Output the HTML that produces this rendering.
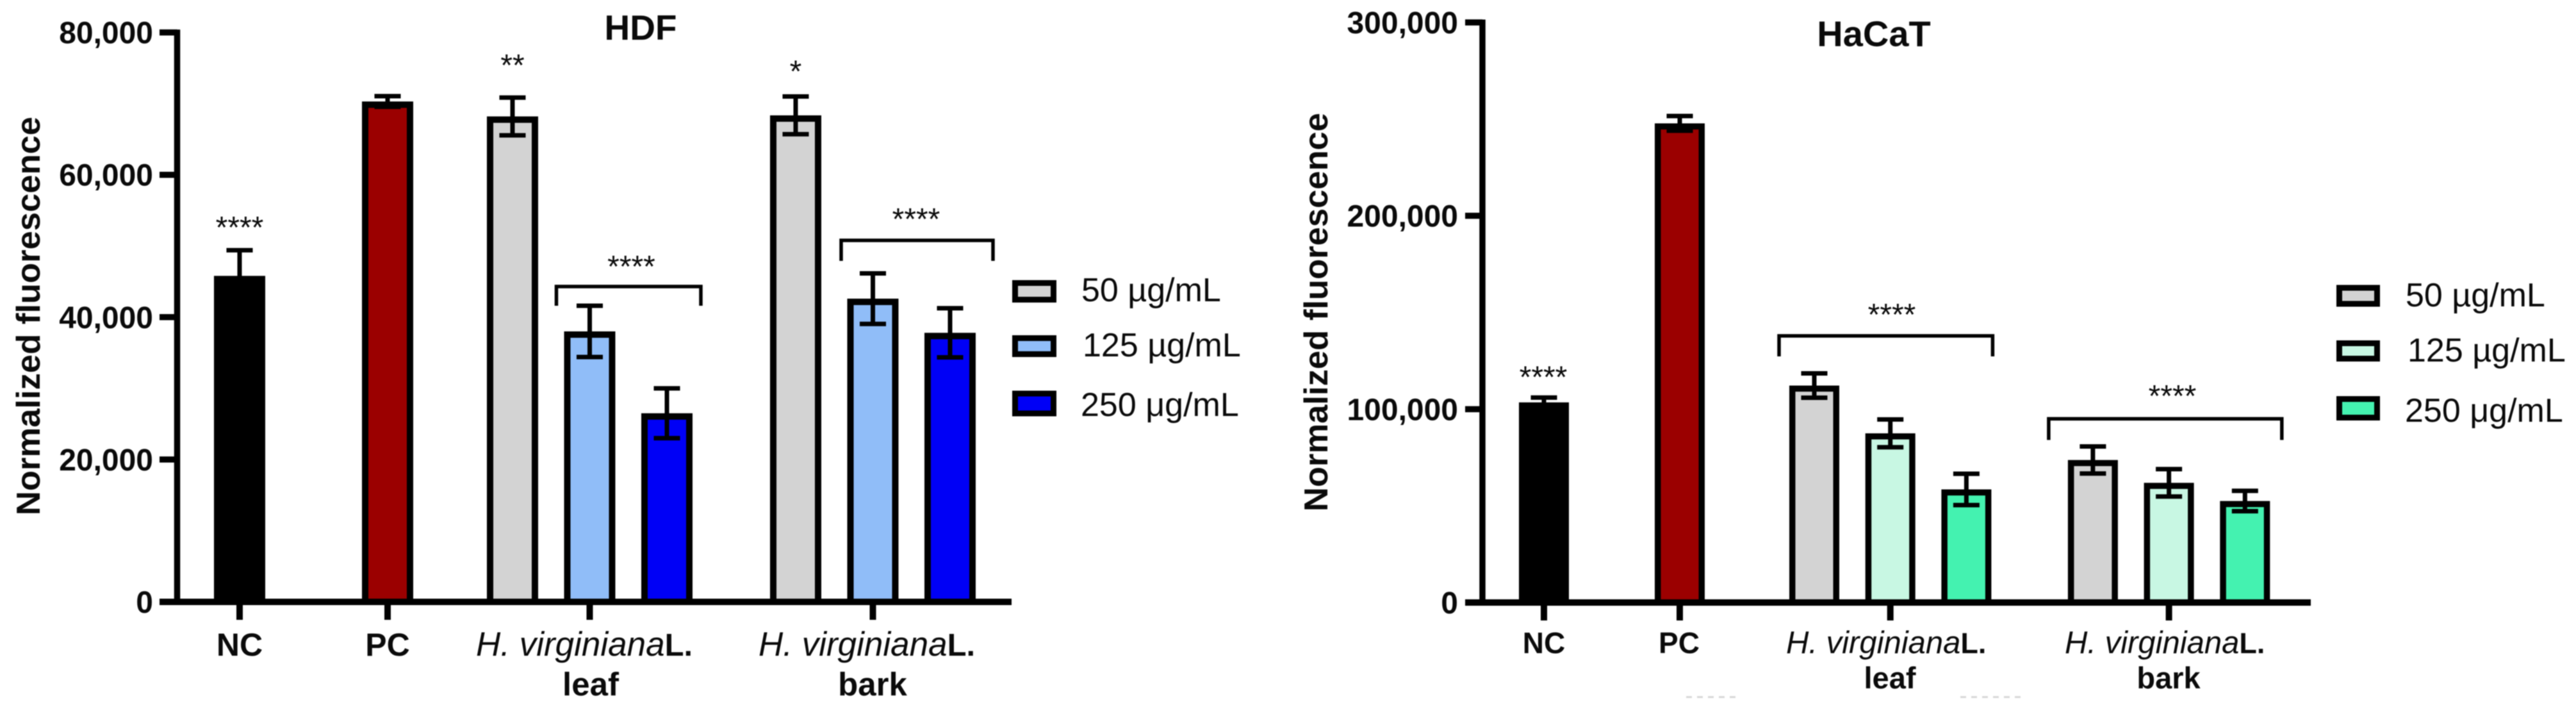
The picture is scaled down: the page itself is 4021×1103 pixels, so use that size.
<!DOCTYPE html>
<html lang="en">
<head>
<meta charset="utf-8">
<title>Normalized fluorescence in HDF and HaCaT cells</title>
<style>
html,body{margin:0;padding:0;background:#fff;width:4021px;height:1103px;overflow:hidden}
svg{display:block;filter:blur(0.7px)}
text{font-family:"Liberation Sans",Arial,sans-serif;fill:#0a0a0a}
.b{font-weight:700}
.i{font-style:italic;font-weight:400}
</style>
</head>
<body>
<svg id="figure" xmlns="http://www.w3.org/2000/svg" width="4021" height="1103" viewBox="0 0 4021 1103">
  <rect width="4021" height="1103" fill="#fff"/>

  <g id="hdf-chart">
    <text class="b" x="1000" y="62" font-size="55" text-anchor="middle">HDF</text>
    <text class="b" font-size="52" text-anchor="middle" textLength="622" lengthAdjust="spacingAndGlyphs" transform="translate(62,493) rotate(-90)">Normalized fluorescence</text>
    <text class="b" x="374" y="1023" font-size="50" text-anchor="middle">NC</text>
    <text class="b" x="605" y="1023" font-size="50" text-anchor="middle">PC</text>
    <text x="743" y="1023"><tspan class="i" font-size="53">H. virginiana</tspan><tspan class="b" font-size="49">L.</tspan></text>
    <text class="b" x="922" y="1085" font-size="51" text-anchor="middle">leaf</text>
    <text x="1184" y="1023"><tspan class="i" font-size="53">H. virginiana</tspan><tspan class="b" font-size="49">L.</tspan></text>
    <text class="b" x="1362" y="1085" font-size="51" text-anchor="middle">bark</text>

    <g>
      <rect x="1584.5" y="441.5" width="60" height="26" fill="#d3d3d3" stroke="#000" stroke-width="9"/>
      <text x="1688" y="470" font-size="52">50 µg/mL</text>
      <rect x="1584.5" y="527.5" width="60" height="25" fill="#90bdf8" stroke="#000" stroke-width="9"/>
      <text x="1690" y="556" font-size="52">125 µg/mL</text>
      <rect x="1584.5" y="614" width="60" height="31" fill="#0000f6" stroke="#000" stroke-width="9"/>
      <text x="1687" y="649" font-size="52">250 μg/mL</text>
    </g>
  </g>

  <g id="hacat-chart">
    <text class="b" x="2925" y="72" font-size="56" text-anchor="middle">HaCaT</text>
    <text class="b" font-size="52" text-anchor="middle" textLength="622" lengthAdjust="spacingAndGlyphs" transform="translate(2072,487) rotate(-90)">Normalized fluorescence</text>
    <text class="b" x="2410" y="1019" font-size="46" text-anchor="middle">NC</text>
    <text class="b" x="2621" y="1019" font-size="46" text-anchor="middle">PC</text>
    <text x="2788" y="1019"><tspan class="i" font-size="49">H. virginiana</tspan><tspan class="b" font-size="45">L.</tspan></text>
    <text class="b" x="2950" y="1074" font-size="47" text-anchor="middle">leaf</text>
    <text x="3223" y="1019"><tspan class="i" font-size="49">H. virginiana</tspan><tspan class="b" font-size="45">L.</tspan></text>
    <text class="b" x="3385" y="1074" font-size="47" text-anchor="middle">bark</text>

    <g>
      <rect x="3651.5" y="449" width="59" height="25" fill="#d3d3d3" stroke="#000" stroke-width="9"/>
      <text x="3755" y="478" font-size="52">50 µg/mL</text>
      <rect x="3651.5" y="535.5" width="59" height="24" fill="#c8f7e3" stroke="#000" stroke-width="9"/>
      <text x="3758" y="564" font-size="52">125 µg/mL</text>
      <rect x="3651.5" y="622.5" width="59" height="29" fill="#44f2b0" stroke="#000" stroke-width="9"/>
      <text x="3754" y="658" font-size="52">250 μg/mL</text>
    </g>
  </g>

  <line x1="2632" y1="1087.5" x2="2710" y2="1087.5" stroke="#d8d8d8" stroke-width="3" stroke-dasharray="9 8"/>
  <line x1="3060" y1="1087.5" x2="3160" y2="1087.5" stroke="#d8d8d8" stroke-width="3" stroke-dasharray="9 8"/>
</svg>

<script>
// ---------- HDF data ----------
const hdfCategories = ['NC', 'PC', 'leaf-50', 'leaf-125', 'leaf-250', 'bark-50', 'bark-125', 'bark-250'];
const hdfMeans = [45800, 70300, 68200, 38000, 26500, 68350, 42600, 37800];
const hdfErrors = [3600, 750, 2650, 3600, 3500, 2650, 3550, 3450];
const hdfTicks = [0, 20000, 40000, 60000, 80000];
const hdfTickLabels = ['0', '20,000', '40,000', '60,000', '80,000'];
const hdfFills = ['#000000', '#9b0000', '#d3d3d3', '#90bdf8', '#0000f6', '#d3d3d3', '#90bdf8', '#0000f6'];
const hdfStarText = ['****', '**', '*'];
const hdfStarLevels = [53130, 75900, 75050];
const hdfBracketLevels = [44300, 50790];
const hdfBracketStarLevels = [47640, 54300];

// ---------- HaCaT data ----------
const hacatCategories = ['NC', 'PC', 'leaf-50', 'leaf-125', 'leaf-250', 'bark-50', 'bark-125', 'bark-250'];
const hacatMeans = [103500, 247800, 112200, 87500, 58500, 73700, 61900, 52500];
const hacatErrors = [2500, 3800, 6300, 7200, 8100, 7000, 7100, 5250];
const hacatTicks = [0, 100000, 200000, 300000];
const hacatTickLabels = ['0', '100,000', '200,000', '300,000'];
const hacatFills = ['#000000', '#9b0000', '#d3d3d3', '#c8f7e3', '#44f2b0', '#d3d3d3', '#c8f7e3', '#44f2b0'];
const hacatStarText = ['****'];
const hacatStarLevels = [118500];
const hacatBracketLevels = [137900, 95000];
const hacatBracketStarLevels = [150800, 108700];

const SVG_NS = 'http://www.w3.org/2000/svg';

function make(tag, attrs, parent) {
  const node = document.createElementNS(SVG_NS, tag);
  for (const key in attrs) node.setAttribute(key, attrs[key]);
  parent.appendChild(node);
  return node;
}

function drawChart(cfg) {
  const root = document.getElementById(cfg.id);
  const yScale = function (v) { return cfg.y0 - v * cfg.yPerUnit; };
  const xScale = function (i) {
    let x = cfg.x0 + i * cfg.step;
    if (i >= 1) x += cfg.gaps[0];
    if (i >= 2) x += cfg.gaps[1];
    if (i >= 5) x += cfg.gaps[2];
    return x;
  };
  const sw = cfg.barStroke;
  const starBaseline = 22;

  // bars: the outer top edge of the stroke sits at the mean
  cfg.means.forEach(function (mean, i) {
    const top = yScale(mean) + sw / 2;
    const bar = make('rect', {
      x: xScale(i) - cfg.barWidth / 2 + sw / 2,
      y: top,
      width: cfg.barWidth - sw,
      height: Math.max(0, cfg.y0 - top),
      fill: cfg.fills[i],
      stroke: '#000',
      'stroke-width': sw
    }, root);
    
    
  });

  // error bars
  cfg.means.forEach(function (mean, i) {
    const cx = xScale(i);
    const hi = yScale(mean + cfg.errors[i]);
    const lo = yScale(mean - cfg.errors[i]);
    const d = 'M' + (cx - 20.5) + ' ' + hi + 'H' + (cx + 20.5) +
              'M' + cx + ' ' + hi + 'V' + lo +
              'M' + (cx - 20.5) + ' ' + lo + 'H' + (cx + 20.5);
    const err = make('path', { d: d, fill: 'none', stroke: '#000', 'stroke-width': 7 }, root);
    
    
  });

  // y axis
  const yAxis = make('line', {
    x1: cfg.axisX, x2: cfg.axisX,
    y1: yScale(cfg.ticks[cfg.ticks.length - 1]) - 4.5, y2: cfg.y0 + 5,
    stroke: '#000', 'stroke-width': 9.5
  }, root);
  
  

  // x axis
  const xAxis = make('line', {
    x1: cfg.tickLeft, x2: cfg.axisEnd, y1: cfg.y0, y2: cfg.y0,
    stroke: '#000', 'stroke-width': 10
  }, root);
  
  

  // y ticks and labels
  cfg.ticks.forEach(function (t, i) {
    const py = yScale(t);
    const tick = make('line', {
      x1: cfg.tickLeft, x2: cfg.axisX, y1: py, y2: py,
      stroke: '#000', 'stroke-width': 9.5
    }, root);
    
    
    const label = make('text', {
      x: cfg.tickLabelRight, y: py + 17,
      'font-size': 48, 'font-weight': 700, 'text-anchor': 'end'
    }, root);
    
    
    label.textContent = cfg.tickLabels[i];
  });

  // x ticks at NC, PC and the middle bar of each group
  [0, 1, 3, 6].forEach(function (i) {
    const cx = xScale(i);
    const tick = make('line', {
      x1: cx, x2: cx, y1: cfg.y0, y2: cfg.y0 + 28,
      stroke: '#000', 'stroke-width': 10
    }, root);
    
    
  });

  // brackets
  cfg.brackets.forEach(function (b, i) {
    const py = yScale(cfg.bracketLevels[i]);
    const xa = xScale(b.from) + b.leftPad;
    const xb = xScale(b.to) + b.rightPad;
    const bracket = make('path', {
      d: 'M' + xa + ' ' + (py + b.drop) + 'V' + py + 'H' + xb + 'V' + (py + b.drop),
      fill: 'none', stroke: '#000', 'stroke-width': 5.5
    }, root);
    
    
    const star = make('text', {
      x: b.starX, y: yScale(cfg.bracketStarLevels[i]) + starBaseline,
      'font-size': 48, 'text-anchor': 'middle'
    }, root);
    
    
    star.textContent = '****';
  });

  // stars over single bars
  cfg.starText.forEach(function (txt, i) {
    const star = make('text', {
      x: xScale(cfg.starBars[i]) + cfg.starNudge, y: yScale(cfg.starLevels[i]) + starBaseline,
      'font-size': 48, 'text-anchor': 'middle'
    }, root);
    
    
    star.textContent = txt;
  });
}

drawChart({
  id: 'hdf-chart', prefix: 'hdf',
  categories: hdfCategories, means: hdfMeans, errors: hdfErrors, fills: hdfFills,
  ticks: hdfTicks, tickLabels: hdfTickLabels,
  starText: hdfStarText, starLevels: hdfStarLevels, starBars: [0, 2, 5], starNudge: 0,
  bracketLevels: hdfBracketLevels, bracketStarLevels: hdfBracketStarLevels,
  brackets: [
    { from: 3, to: 4, leftPad: -52, rightPad: 53, drop: 30, starX: 985.5 },
    { from: 6, to: 7, leftPad: -49.5, rightPad: 67, drop: 32, starX: 1430 }
  ],
  y0: 939, yPerUnit: 888.4 / 80000,
  x0: 374, step: 120.5, gaps: [110.5, 74.5, 80.5], barWidth: 80, barStroke: 10,
  axisX: 276.5, tickLeft: 249, axisEnd: 1579, tickLabelRight: 239
});

drawChart({
  id: 'hacat-chart', prefix: 'hacat',
  categories: hacatCategories, means: hacatMeans, errors: hacatErrors, fills: hacatFills,
  ticks: hacatTicks, tickLabels: hacatTickLabels,
  starText: hacatStarText, starLevels: hacatStarLevels, starBars: [0], starNudge: -1,
  bracketLevels: hacatBracketLevels, bracketStarLevels: hacatBracketStarLevels,
  brackets: [
    { from: 2, to: 4, leftPad: -55, rightPad: 41, drop: 32, starX: 2953 },
    { from: 5, to: 7, leftPad: -69, rightPad: 57.5, drop: 33, starX: 3391 }
  ],
  y0: 940, yPerUnit: 905 / 300000,
  x0: 2410, step: 118.7, gaps: [93.3, 91.3, 78.8], barWidth: 78, barStroke: 9.5,
  axisX: 2314, tickLeft: 2287, axisEnd: 3607, tickLabelRight: 2276
});
</script>
</body>
</html>
